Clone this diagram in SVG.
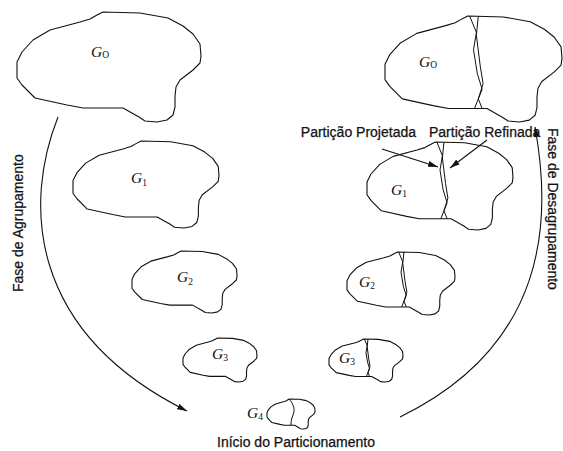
<svg xmlns="http://www.w3.org/2000/svg" xmlns:xlink="http://www.w3.org/1999/xlink" width="563" height="451" viewBox="0 0 563 451">
<style>
.ol{fill:none;stroke:#111;stroke-width:1.1;stroke-linejoin:round;vector-effect:non-scaling-stroke}
.pl{fill:none;stroke:#111;stroke-width:1;vector-effect:non-scaling-stroke}
.cn{fill:none;stroke:#111;stroke-width:1.1}
.gl{font-family:"Liberation Serif",serif;font-style:italic;font-size:15.5px;fill:#111}
.sb{font-style:normal;font-size:9.5px}
.tx{font-family:"Liberation Sans",Arial,sans-serif;font-size:14px;fill:#111;stroke:#111;stroke-width:0.25}
</style>
<defs>
<path id="blob" class="ol" d="M86,0 L123,1 L151,6 L166,14 L176,22 L183,32 L184,44 L183,51 L176,58 L163,68 L159,75 L158,84 L158,95 L156,103 L150,108 L140,110 L128,109 L122,105 L106,96 L66,96 L50,93 L18,86 L5,73 L0,66 L0,50 L5,40 L16,28 L33,18 L63,10 L73,7 L80,3 Z"/>
<g id="part">
<path class="pl" d="M88,0 L95,17 L92,35 L96,60 L101,76 L93,96"/>
<path class="pl" d="M97,0 L95,20 L99,52 L102,70 L97,86 L101,96"/>
</g>
<marker id="ah" viewBox="0 0 10 6" refX="10" refY="3" markerWidth="10" markerHeight="6" orient="auto" markerUnits="userSpaceOnUse">
<path d="M0,0 L10,3 L0,6 Z" fill="#111"/>
</marker>
</defs>

<g id="connectors">
<path id="arc-agrupamento" class="cn" d="M58,117 C25,200 25,330 187,411" marker-end="url(#ah)"/>
<path id="arc-desagrupamento" class="cn" d="M400,417 C548,345 552,220 535,127" marker-end="url(#ah)"/>
<path id="arrow-projetada" class="cn" d="M382,149 L438,167" marker-end="url(#ah)"/>
<path id="arrow-refinada" class="cn" d="M487,140 L450,168" marker-end="url(#ah)"/>
</g>

<g id="labels">
<text class="tx" transform="translate(23,292) rotate(-90)">Fase de Agrupamento</text>
<text class="tx" transform="translate(548,128) rotate(90)">Fase de Desagrupamento</text>
<text class="tx" x="217" y="447">Início do Particionamento</text>
<text class="tx" x="416" y="137" text-anchor="end">Partição Projetada</text>
<text class="tx" x="429" y="137">Partição Refinada</text>
</g>

<g id="node-left-G0">
<use xlink:href="#blob" transform="translate(17,12)"/>
<text class="gl" x="91" y="57">G<tspan class="sb" dy="0.5">O</tspan></text>
</g>
<g id="node-left-G1">
<use xlink:href="#blob" transform="translate(73,141) scale(0.7935,0.791)"/>
<text class="gl" x="131" y="183">G<tspan class="sb" dy="3">1</tspan></text>
</g>
<g id="node-left-G2">
<use xlink:href="#blob" transform="translate(132,251) scale(0.571,0.564)"/>
<text class="gl" x="177" y="282">G<tspan class="sb" dy="3">2</tspan></text>
</g>
<g id="node-left-G3">
<use xlink:href="#blob" transform="translate(183,338) scale(0.402,0.4)"/>
<text class="gl" x="212" y="359">G<tspan class="sb" dy="2">3</tspan></text>
</g>
<g id="node-G4">
<g transform="translate(267,399) scale(0.261,0.273)">
<use xlink:href="#blob"/>
<path class="pl" d="M84,0 C100,15 106,35 103,48 C100,62 90,75 92,96"/>
</g>
<text class="gl" x="247" y="418">G<tspan class="sb" dy="2">4</tspan></text>
</g>

<g id="node-right-G0">
<g transform="translate(385,16) scale(0.962,0.964)">
<use xlink:href="#blob"/>
<use xlink:href="#part"/>
</g>
<text class="gl" x="419" y="67">G<tspan class="sb" dy="0.5">O</tspan></text>
</g>
<g id="node-right-G1">
<g transform="translate(367,142) scale(0.7935,0.8)">
<use xlink:href="#blob"/>
<use xlink:href="#part"/>
</g>
<text class="gl" x="391" y="195">G<tspan class="sb" dy="2">1</tspan></text>
</g>
<g id="node-right-G2">
<g transform="translate(347,252) scale(0.587,0.573)">
<use xlink:href="#blob"/>
<use xlink:href="#part"/>
</g>
<text class="gl" x="359" y="287">G<tspan class="sb" dy="2">2</tspan></text>
</g>
<g id="node-right-G3">
<g transform="translate(329,339) scale(0.402,0.391)">
<use xlink:href="#blob"/>
<use xlink:href="#part"/>
</g>
<text class="gl" x="339" y="363">G<tspan class="sb" dy="2">3</tspan></text>
</g>
</svg>
